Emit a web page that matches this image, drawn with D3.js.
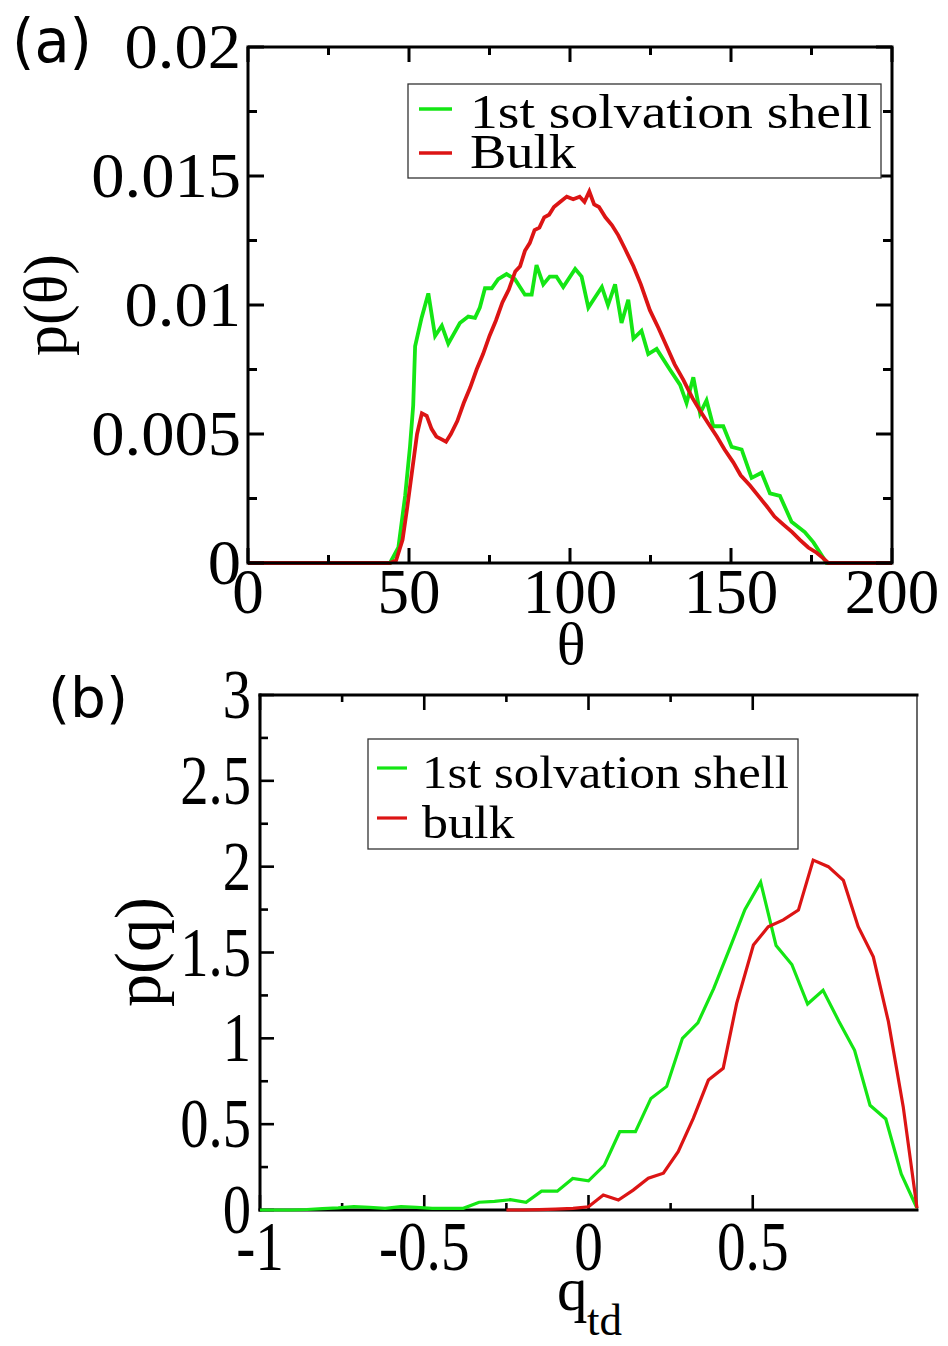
<!DOCTYPE html>
<html><head><meta charset="utf-8">
<script src="https://cdn.jsdelivr.net/npm/d3@7"></script>
<style>body{margin:0;background:#fff} svg{display:block}</style>
</head><body><svg id="c" width="948" height="1346"></svg>
<script>
// ---------- Panel (a) data ----------
const thetaRed = [0,44,46,48,49.5,51,52.5,54,55.5,57,58.5,60,61.5,63,65,67,69,71,73,75,77,79,81,83,84.5,86,87.5,89,90.5,92,93.5,95,97,99,101,103,104.5,106,107.5,109,111,113,115,117,119.7,122,124.8,127.5,130,132.5,135.2,138,140.4,143,145.6,148,150.7,153,155.9,158.5,161.1,163.5,166.2,169,171.4,174,176.6,178.5,180.2,200];
const pRed = [0,0,0.0001,0.0009,0.0022,0.0036,0.0050,0.0058,0.0057,0.0052,0.0049,0.0048,0.0047,0.0050,0.0055,0.0062,0.0068,0.0075,0.0081,0.0088,0.0094,0.0101,0.0106,0.0113,0.0115,0.0121,0.0124,0.0129,0.0130,0.0134,0.0135,0.0138,0.0140,0.0142,0.0141,0.0142,0.0140,0.0144,0.0139,0.0138,0.0134,0.0131,0.0127,0.0122,0.0115,0.0108,0.0098,0.0091,0.0084,0.0077,0.0071,0.0064,0.0059,0.0054,0.0049,0.0044,0.0039,0.0034,0.0030,0.0026,0.0022,0.0018,0.0015,0.0012,0.0009,0.0006,0.0004,0.0002,0,0];
const thetaGreen = [0,43,44.1,46.7,48.8,50.3,51.3,51.9,53.9,56,58.1,60.2,62.2,64,65.8,68.4,70.5,72,73.6,75.7,77.7,80.3,82.9,86,88.1,89.6,91.7,93.7,95.8,97.9,101.6,103.6,105.7,107.8,109.9,111.8,114,116,118.1,119.7,122.2,124.3,126.9,131,134.2,136.2,138.3,140.4,142.4,144.5,147.6,150.2,153.3,156.4,159.5,162.1,165.2,168.8,172.9,175.6,179.7,200];
const pGreen = [0,0,0,0.0006,0.0026,0.0045,0.0061,0.0084,0.0095,0.01045,0.0088,0.0092,0.0085,0.0089,0.0093,0.00955,0.0095,0.0099,0.01065,0.01065,0.0110,0.0112,0.0110,0.0104,0.0104,0.01155,0.0108,0.0111,0.0111,0.0107,0.0114,0.0111,0.0099,0.0103,0.0107,0.0100,0.0108,0.0093,0.0102,0.0087,0.0090,0.0081,0.0083,0.0075,0.0069,0.0062,0.0072,0.0058,0.0063,0.0053,0.0053,0.0045,0.0044,0.0033,0.0035,0.0027,0.0026,0.0016,0.0012,0.0008,0,0];
const aXTicks = [0,50,100,150,200];
const aXLabels = ["0","50","100","150","200"];
const aXMinor = [25,75,125,175];
const aYTicks = [0,0.005,0.01,0.015,0.02];
const aYLabels = ["0","0.005","0.01","0.015","0.02"];
const aYMinor = [0.0025,0.0075,0.0125,0.0175];
const legendA = ["1st solvation shell","Bulk"];

// ---------- Panel (b) data ----------
const qGreen = [-1,-0.952,-0.905,-0.857,-0.810,-0.762,-0.714,-0.667,-0.619,-0.571,-0.524,-0.476,-0.429,-0.381,-0.333,-0.286,-0.238,-0.190,-0.143,-0.095,-0.048,0,0.048,0.095,0.143,0.190,0.238,0.286,0.333,0.381,0.429,0.476,0.524,0.571,0.619,0.667,0.714,0.762,0.810,0.857,0.905,0.952,1.0];
const pqGreen = [0,0,0,0.003,0.008,0.012,0.02,0.015,0.01,0.02,0.015,0.01,0.01,0.01,0.045,0.05,0.06,0.045,0.11,0.11,0.184,0.17,0.26,0.456,0.456,0.65,0.72,1.0,1.09,1.29,1.52,1.75,1.91,1.54,1.43,1.20,1.28,1.10,0.93,0.61,0.53,0.21,0.01];
const qRed = [-0.25,-0.2,-0.15,-0.1,-0.047,0,0.045,0.091,0.136,0.182,0.228,0.273,0.319,0.365,0.41,0.451,0.502,0.547,0.593,0.639,0.684,0.73,0.776,0.821,0.867,0.913,0.958,1.0];
const pqRed = [0,0,0.002,0.005,0.01,0.019,0.087,0.058,0.116,0.185,0.214,0.34,0.534,0.757,0.825,1.204,1.543,1.65,1.69,1.747,2.038,2.0,1.92,1.65,1.475,1.097,0.602,0.01];
const bXTicks = [-1,-0.5,0,0.5];
const bXLabels = ["-1","-0.5","0","0.5"];
const bXMinor = [-0.75,-0.25,0.25];
const bYTicks = [0,0.5,1,1.5,2,2.5,3];
const bYLabels = ["0","0.5","1","1.5","2","2.5","3"];
const bYMinor = [0.25,0.75,1.25,1.75,2.25,2.75];
const legendB = ["1st solvation shell","bulk"];

const GREEN = "#14e614", RED = "#dc1414";
const SERIF = "'Liberation Serif','Times New Roman',serif";
const SANS = "'DejaVu Sans',sans-serif";

const svg = d3.select("#c");
svg.append("rect").attr("width",948).attr("height",1346).attr("fill","#fff");

function fit(sel, sx){
  sel.each(function(){
    const L = this.getComputedTextLength();
    d3.select(this).attr("textLength", L*sx).attr("lengthAdjust","spacingAndGlyphs");
  });
}
function fitTo(sel, w){
  sel.attr("textLength", w).attr("lengthAdjust","spacingAndGlyphs");
}

// ================= Panel (a) =================
const xA = d3.scaleLinear([0,200],[248,892]);
const yA = d3.scaleLinear([0,0.02],[563,47]);
const gA = svg.append("g");
const lineA = (xs, ys) => d3.line().x((d,i)=>xA(xs[i])).y((d,i)=>yA(ys[i]))(xs);
gA.append("path").attr("d", lineA(thetaGreen,pGreen)).attr("fill","none").attr("stroke",GREEN).attr("stroke-width",3.8).attr("stroke-linejoin","miter");
gA.append("path").attr("d", lineA(thetaRed,pRed)).attr("fill","none").attr("stroke",RED).attr("stroke-width",3.8).attr("stroke-linejoin","miter");

// frame
gA.append("rect").attr("x",xA(0)).attr("y",yA(0.02)).attr("width",xA(200)-xA(0)).attr("height",yA(0)-yA(0.02))
  .attr("fill","none").attr("stroke","#000").attr("stroke-width",3);
const tA = gA.append("g").attr("stroke","#000").attr("stroke-width",3);
aXTicks.concat(aXMinor).forEach(v=>{
  const L = aXTicks.includes(v)?15:8;
  tA.append("line").attr("x1",xA(v)).attr("x2",xA(v)).attr("y1",yA(0)).attr("y2",yA(0)-L);
  tA.append("line").attr("x1",xA(v)).attr("x2",xA(v)).attr("y1",yA(0.02)).attr("y2",yA(0.02)+L);
});
aYTicks.concat(aYMinor).forEach(v=>{
  const L = aYTicks.includes(v)?16:9;
  tA.append("line").attr("y1",yA(v)).attr("y2",yA(v)).attr("x1",xA(0)).attr("x2",xA(0)+L);
  tA.append("line").attr("y1",yA(v)).attr("y2",yA(v)).attr("x1",xA(200)).attr("x2",xA(200)-L);
});
gA.selectAll("text.xt").data(aXTicks).join("text").attr("class","xt")
  .attr("x",d=>xA(d)).attr("y",613).attr("text-anchor","middle")
  .attr("font-family",SERIF).attr("font-size",63).text((d,i)=>aXLabels[i]);
const ytA = gA.selectAll("text.yt").data(aYTicks).join("text").attr("class","yt")
  .attr("x",241).attr("y",d=>yA(d)+21).attr("text-anchor","end")
  .attr("font-family",SERIF).attr("font-size",64).text((d,i)=>aYLabels[i]);
fit(ytA,1.04);
// axis titles
gA.append("text").attr("transform","translate(66,305) rotate(-90)").attr("text-anchor","middle")
  .attr("font-family",SERIF).attr("font-size",62).text("p(θ)");
gA.append("text").attr("x",571).attr("y",664).attr("text-anchor","middle")
  .attr("font-family",SERIF).attr("font-size",60).text("θ");
const tiA = gA.append("text").attr("x",12).attr("y",62).attr("font-family",SANS).attr("font-size",60).text("(a)");
fitTo(tiA,80);
// legend
gA.append("rect").attr("x",408).attr("y",84).attr("width",473).attr("height",94)
  .attr("fill","#fff").attr("stroke","#333").attr("stroke-width",1.3);
[GREEN,RED].forEach((c,i)=>{
  const y = [109,153][i];
  gA.append("line").attr("x1",419).attr("x2",452).attr("y1",y).attr("y2",y).attr("stroke",c).attr("stroke-width",3.4);
});
const lgA = gA.selectAll("text.lg").data(legendA).join("text").attr("class","lg")
  .attr("x",470).attr("y",(d,i)=>[128,168][i]).attr("font-family",SERIF).attr("font-size",48).text(d=>d);
fitTo(lgA.filter((d,i)=>i===0),402); fitTo(lgA.filter((d,i)=>i===1),106);

// ================= Panel (b) =================
const xB = d3.scaleLinear([-1,1],[260,917]);
const yB = d3.scaleLinear([0,3],[1210,695]);
const gB = svg.append("g");
// frame
gB.append("line").attr("x1",xB(1)).attr("x2",xB(1)).attr("y1",yB(3)).attr("y2",yB(0)).attr("stroke","#444").attr("stroke-width",1.6);
const fB = gB.append("g").attr("stroke","#000").attr("stroke-width",3).attr("stroke-linecap","square");
fB.append("line").attr("x1",xB(-1)).attr("x2",xB(1)).attr("y1",yB(3)).attr("y2",yB(3));
fB.append("line").attr("x1",xB(-1)).attr("x2",xB(1)).attr("y1",yB(0)).attr("y2",yB(0));
fB.append("line").attr("x1",xB(-1)).attr("x2",xB(-1)).attr("y1",yB(0)).attr("y2",yB(3));
const tB = gB.append("g").attr("stroke","#000").attr("stroke-width",2.6);
bXTicks.concat(bXMinor).forEach(v=>{
  const L = bXTicks.includes(v)?15:7;
  tB.append("line").attr("x1",xB(v)).attr("x2",xB(v)).attr("y1",yB(0)).attr("y2",yB(0)-L);
  tB.append("line").attr("x1",xB(v)).attr("x2",xB(v)).attr("y1",yB(3)).attr("y2",yB(3)+L);
});
bYTicks.concat(bYMinor).forEach(v=>{
  const L = bYTicks.includes(v)?14:8;
  tB.append("line").attr("y1",yB(v)).attr("y2",yB(v)).attr("x1",xB(-1)).attr("x2",xB(-1)+L);
});
const lineB = (xs, ys) => d3.line().x((d,i)=>xB(xs[i])).y((d,i)=>yB(ys[i]))(xs);
gB.append("path").attr("d", lineB(qGreen,pqGreen)).attr("fill","none").attr("stroke",GREEN).attr("stroke-width",3.2);
gB.append("path").attr("d", lineB(qRed,pqRed)).attr("fill","none").attr("stroke",RED).attr("stroke-width",3.2);

const xtB = gB.selectAll("text.xt").data(bXTicks).join("text").attr("class","xt")
  .attr("x",d=>xB(d)).attr("y",1270).attr("text-anchor","middle")
  .attr("font-family",SERIF).attr("font-size",69).text((d,i)=>bXLabels[i]);
fit(xtB,0.83);
const ytB = gB.selectAll("text.yt").data(bYTicks).join("text").attr("class","yt")
  .attr("x",251).attr("y",d=>yB(d)+23).attr("text-anchor","end")
  .attr("font-family",SERIF).attr("font-size",69).text((d,i)=>bYLabels[i]);
fit(ytB,0.82);
gB.append("text").attr("transform","translate(160,952) rotate(-90)").attr("text-anchor","middle")
  .attr("font-family",SERIF).attr("font-size",66).text("p(q)");
gB.append("text").attr("x",557).attr("y",1310).attr("font-family",SERIF).attr("font-size",61).text("q");
const td = gB.append("text").attr("x",587).attr("y",1335).attr("font-family",SERIF).attr("font-size",44).text("td");
fitTo(td,35);
const tiB = gB.append("text").attr("x",48).attr("y",717).attr("font-family",SANS).attr("font-size",56).text("(b)");
fitTo(tiB,80);
// legend
gB.append("rect").attr("x",368).attr("y",739).attr("width",430).attr("height",110)
  .attr("fill","#fff").attr("stroke","#333").attr("stroke-width",1.3);
[GREEN,RED].forEach((c,i)=>{
  const y = [768,818][i];
  gB.append("line").attr("x1",377).attr("x2",407).attr("y1",y).attr("y2",y).attr("stroke",c).attr("stroke-width",3.2);
});
const lgB = gB.selectAll("text.lg").data(legendB).join("text").attr("class","lg")
  .attr("x",422).attr("y",(d,i)=>[788,838][i]).attr("font-family",SERIF).attr("font-size",46).text(d=>d);
fitTo(lgB.filter((d,i)=>i===0),367); fit(lgB.filter((d,i)=>i===1),1.13);
</script></body></html>
